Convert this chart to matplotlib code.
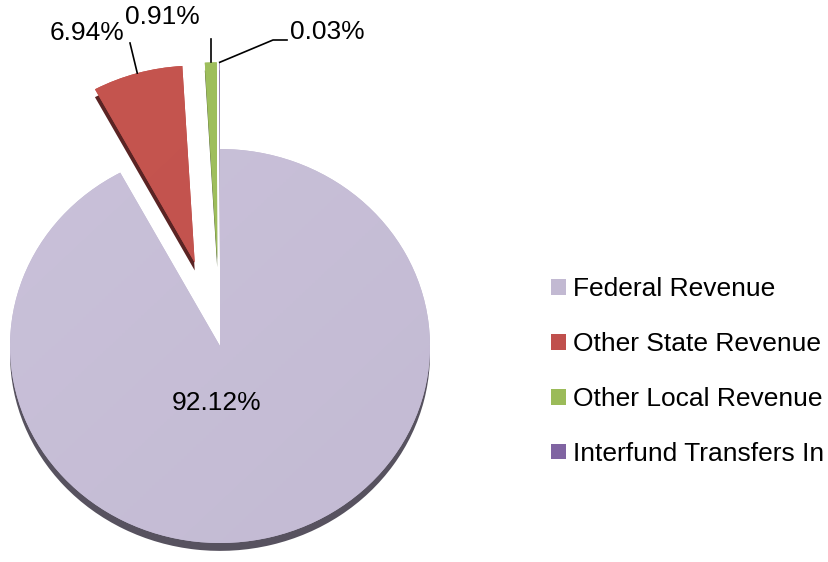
import numpy as np
import matplotlib
matplotlib.use("Agg")
import matplotlib.pyplot as plt
from matplotlib.colors import LinearSegmentedColormap

plt.rcParams['font.family'] = ['Liberation Sans', 'DejaVu Sans']

# Data
categories = ['Federal Revenue', 'Other State Revenue', 'Other Local Revenue', 'Interfund Transfers In']
values = [92.12, 6.94, 0.91, 0.03]

colors = ['#c2b9d2', '#c0504d', '#9bbb59', '#8064a2']
light = ['#cbc3db', '#c6564f', '#a0c05e', '#8569a7']
dark_side = ['#57525f', '#5a2424', '#4d5e2c', '#40325a']
explode = [0.0, 0.44, 0.44, 0.44]

W, H = 829, 562
SX, SY = 210, 197      # px per unit
CX, CY = 220, 346      # pie centre in px (from top-left)
fig = plt.figure(figsize=(W / 100, H / 100), dpi=100)
ax = fig.add_axes([0, 0, 1, 1])

# 3D-ish side: a darker copy shifted down
ax.pie(values, explode=explode, startangle=90, counterclock=False,
       colors=dark_side, center=(0, -0.04), labeldistance=None,
       wedgeprops=dict(linewidth=0))
wedges, _ = ax.pie(values, explode=explode, startangle=90, counterclock=False,
                   colors=colors, labeldistance=None,
                   wedgeprops=dict(linewidth=0))

# soft gradient on the slices
gx, gy = np.meshgrid(np.linspace(0, 1, 200), np.linspace(0, 1, 200))
grad = (gx + gy) / 2
for w, c0, c1 in zip(wedges, light, colors):
    cmap = LinearSegmentedColormap.from_list('g', [c0, c1])
    im = ax.imshow(grad, cmap=cmap, extent=[-1.5, 1.5, -1.3, 1.7],
                   origin='upper', aspect='auto', zorder=w.get_zorder() + 0.1)
    im.set_clip_path(w)

ax.set_aspect('auto')
ax.set_xlim(-CX / SX, (W - CX) / SX)
ax.set_ylim(-(H - CY) / SY, CY / SY)
ax.axis('off')

labels = [f'{v:.2f}%' for v in values]


def outer_mid(w):
    t = np.deg2rad((w.theta1 + w.theta2) / 2)
    cx, cy = w.center
    return cx + w.r * np.cos(t), cy + w.r * np.sin(t)


def d(px, py):
    return (px - CX) / SX, (CY - py) / SY


fs = 19
# Federal label inside
ax.text(*d(217, 403), labels[0], ha='center', va='center', fontsize=fs, zorder=10)

# Other State
ax0, ay0 = outer_mid(wedges[1])
ex, ey = d(130, 43)
ax.plot([ax0, ex], [ay0, ey], color='black', lw=1.2, zorder=10)
ax.text(*d(87, 33), labels[1], ha='center', va='center', fontsize=fs, zorder=10)

# Other Local
gx0, gy0 = outer_mid(wedges[2])
ax.plot([gx0, gx0], [gy0, d(0, 39)[1]], color='black', lw=1.2, zorder=10)
ax.text(*d(162, 17), labels[2], ha='center', va='center', fontsize=fs, zorder=10)

# Interfund
px0, py0 = outer_mid(wedges[3])
e1, e2 = d(273, 40), d(287, 40)
ax.plot([px0, e1[0], e2[0]], [py0, e1[1], e2[1]], color='black', lw=1.2, zorder=10)
ax.text(*d(327, 32), labels[3], ha='center', va='center', fontsize=fs, zorder=10)

handles = [plt.Rectangle((0, 0), 1, 1, facecolor=c, edgecolor='none') for c in colors]
fig.legend(handles, categories, loc='center left', bbox_to_anchor=(551 / W, 1 - 371.5 / H),
           frameon=False, fontsize=fs, handlelength=0.55, handleheight=0.55,
           handletextpad=0.3, labelspacing=1.17, borderpad=0, borderaxespad=0)

fig.savefig('out.png', dpi=100)
